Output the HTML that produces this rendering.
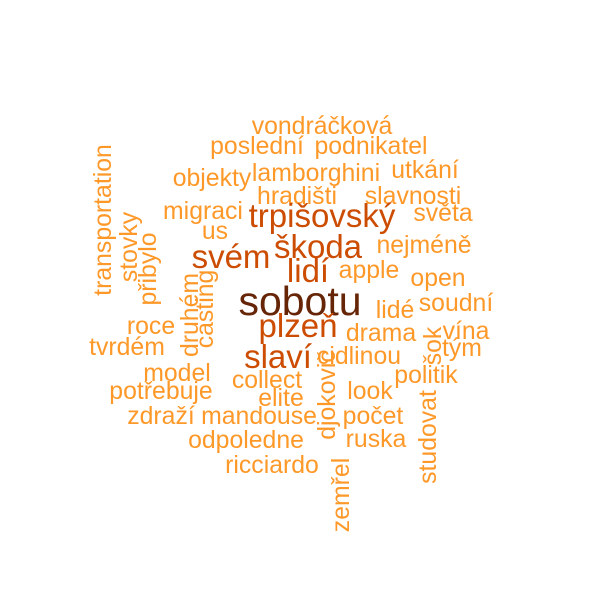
<!DOCTYPE html>
<html><head><meta charset="utf-8"><style>
html,body{margin:0;padding:0;background:#fff;}
svg text{font-family:"Liberation Sans",Arial,sans-serif;text-anchor:middle;}
</style></head><body>
<svg id="cloud" width="600" height="600" viewBox="0 0 600 600" xmlns="http://www.w3.org/2000/svg">
<rect width="600" height="600" fill="#fff"/>
<g id="words"></g>
</svg>
<script>
const words = ["vondráčková","poslední","podnikatel","objekty","lamborghini","utkání","hradišti","slavnosti","migraci","trpišovský","světa","us","škoda","svém","nejméně","lidí","apple","open","sobotu","lidé","soudní","plzeň","roce","drama","vína","tvrdém","tým","slaví","cidlinou","model","politik","collect","potřebuje","look","elite","zdraží","mandouse","počet","odpoledne","ruska","ricciardo","transportation","stovky","přibylo","druhém","casting","djokovič","zemřel","šok","studovat"];
const freqs = [1,1,1,1,1,1,1,1,1,2,1,1,2,2,1,2,1,1,4,1,1,2,1,1,1,1,1,2,1,1,1,1,1,1,1,1,1,1,1,1,1,1,1,1,1,1,1,1,1,1];
const wx = [322,257,371,212,316,425,297,413,203,322,443,215,318,231,424,308,369,438,300,395,456,298,151,381,466,127,462,278,359,177,426,267,161,370,281,161,259,373,246,376,272,111,137,156,198,213,335,349,441,436];
const wy = [134,154,154,186,181,178,204,204,219,227,221,239,258,268,253,282,278,286,315,318,311,337,334,341,339,355,356,368,364,381,383,388,399,399,406,424,424,424,448,447,473,220,247,269,315,309,395,495,346,437];
const vert = [0,0,0,0,0,0,0,0,0,0,0,0,0,0,0,0,0,0,0,0,0,0,0,0,0,0,0,0,0,0,0,0,0,0,0,0,0,0,0,0,0,1,1,1,1,1,1,1,1,1];
const sizeFor = {1:24.8, 2:33, 4:41};
const colorFor = {1:"#FE9929", 2:"#CC4C02", 4:"#662506"};
const g = document.getElementById('words');
words.forEach((w,i)=>{
  const t = document.createElementNS('http://www.w3.org/2000/svg','text');
  
  
  t.setAttribute('font-size', sizeFor[freqs[i]]);
  t.setAttribute('fill', colorFor[freqs[i]]);
  if (vert[i]) {
    t.setAttribute('transform', `translate(${wx[i]},${wy[i]}) rotate(-90)`);
  } else {
    t.setAttribute('x', wx[i]);
    t.setAttribute('y', wy[i]);
  }
  t.textContent = w;
  g.appendChild(t);
});
</script>
</body></html>
